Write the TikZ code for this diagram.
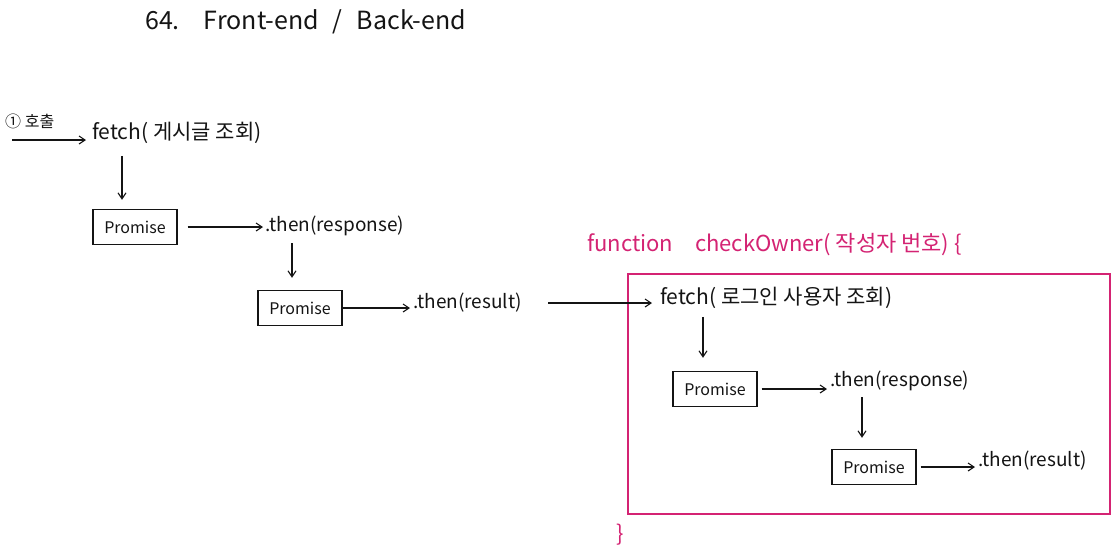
\documentclass[tikz,border=0pt]{standalone}
\usepackage{fontspec}
\setmainfont{Noto Sans CJK KR}
\usetikzlibrary{arrows.meta}
\definecolor{pinkc}{RGB}{212,35,115}
\definecolor{inkc}{RGB}{20,20,20}
\begin{document}
\begin{tikzpicture}[x=1pt,y=-1pt,
  every node/.style={inner sep=0pt, text=inkc},
  bigtxt/.style={font=\fontsize{21}{24}\selectfont, anchor=west},
  midtxt/.style={font=\fontsize{19}{22}\selectfont, anchor=west},
  pbox/.style={draw=inkc, line width=1.4pt, minimum width=84pt, minimum height=35pt, font=\fontsize{16}{19}\selectfont},
  arr/.style={draw=inkc, line width=1.1pt, -{Straight Barb[length=6pt,width=8pt]}},
  pinktxt/.style={text=pinkc, font=\fontsize{22}{26}\selectfont, anchor=west}
]
\useasboundingbox (0,0) rectangle (1118,555);
\fill[white] (0,0) rectangle (1118,555);

% title
\node[anchor=west, font=\fontsize{25}{30}\selectfont] (title) at (145,22) {64.\hspace{24pt}Front-end\hspace{14pt}/\hspace{14pt}Back-end};

% left flow
\node[anchor=west, font=\fontsize{16}{19}\selectfont] (call) at (5,121) {① 호출};
\coordinate (callstart) at (12,140);
\node[bigtxt] (fetch1) at (92,133) {fetch( 게시글 조회)};
\draw[arr] (callstart) -- ([xshift=-6pt]fetch1.west |- callstart);
\node[pbox] (p1) at (135,227) {Promise};
\draw[arr] ([xshift=-13pt,yshift=-12pt]p1.north |- fetch1.south) -- ([xshift=-13pt,yshift=9pt]p1.north);
\node[midtxt] (then1) at (265,226) {.then(response)};
\draw[arr] ([xshift=10pt]p1.east) -- ([xshift=-2pt]then1.west |- p1.east);
\node[pbox] (p2) at (300,308) {Promise};
\draw[arr] ([xshift=-8pt,yshift=-7pt]p2.north |- then1.south) -- ([xshift=-8pt,yshift=12pt]p2.north);
\node[midtxt] (then2) at (413,303) {.then(result)};
\draw[arr] (p2.east) -- ([xshift=-3pt]then2.west |- p2.east);

% checkOwner function
\node[pinktxt] (func) at (587,245) {function\quad checkOwner( 작성자 번호) \{};
\node[draw=pinkc, line width=1.4pt, minimum width=482pt, minimum height=240pt] (fbox) at (869,394) {};
\node[text=pinkc, font=\fontsize{22}{26}\selectfont] (close) at (620,535) {\}};

\node[bigtxt] (fetch2) at (660,298) {fetch( 로그인 사용자 조회)};
\draw[arr] ([xshift=26pt]then2.east) -- ([xshift=-8pt]fetch2.west |- then2.east);
\node[pbox] (p3) at (715,389) {Promise};
\draw[arr] ([xshift=-12pt,yshift=-8pt]p3.north |- fetch2.south) -- ([xshift=-12pt,yshift=13pt]p3.north);
\node[midtxt] (then3) at (830,381) {.then(response)};
\draw[arr] ([xshift=4pt]p3.east) -- ([xshift=-3pt]then3.west |- p3.east);
\node[pbox] (p4) at (874,467) {Promise};
\draw[arr] ([xshift=-12pt,yshift=-6pt]p4.north |- then3.south) -- ([xshift=-12pt,yshift=11pt]p4.north);
\node[midtxt] (then4) at (978,461) {.then(result)};
\draw[arr] ([xshift=4pt]p4.east) -- ([xshift=-3pt]then4.west |- p4.east);
\end{tikzpicture}
\end{document}
